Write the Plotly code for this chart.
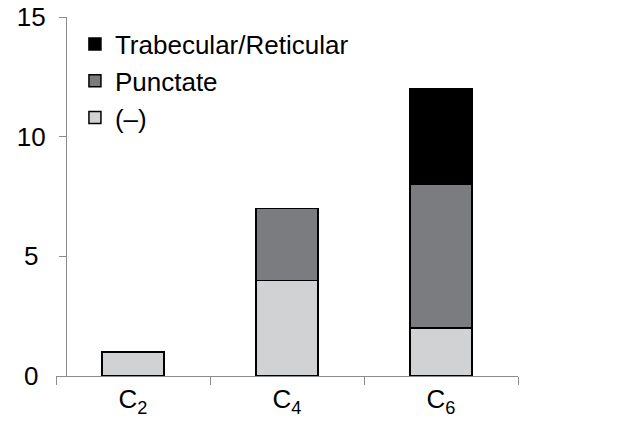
import plotly.graph_objects as go

categories = ["C<sub>2</sub>", "C<sub>4</sub>", "C<sub>6</sub>"]
neg_vals = [1, 4, 2]
punct_vals = [0, 3, 6]
trab_vals = [0, 0, 4]
y_ticks = [0, 5, 10, 15]
y_tick_labels = ["0\u2008", "5\u2008", "10", "15"]

fig = go.Figure()
series = [
    ("(–)", neg_vals, "#d1d2d4"),
    ("Punctate", punct_vals, "#7b7c80"),
    ("Trabecular/Reticular", trab_vals, "#000000"),
]
for i, (name, vals, col) in enumerate(series):
    fig.add_trace(go.Bar(
        x=categories, y=vals, name=name, legendgroup=f"g{i}",
        marker=dict(color=col, line=dict(color="black", width=1.5)),
    ))

fig.update_layout(
    width=622, height=424,
    barmode="stack", bargap=0.6,
    paper_bgcolor="white", plot_bgcolor="white",
    margin=dict(l=48, r=112, t=9, b=56, autoexpand=False),
    font=dict(family="Liberation Sans, Arial, sans-serif", size=26, color="black"),
    legend=dict(x=0.041, y=0.99, xanchor="left", yanchor="top",
                traceorder="reversed", tracegroupgap=3,
                font=dict(size=26), bgcolor="rgba(0,0,0,0)",
                itemwidth=30),
    showlegend=True,
)
fig.update_yaxes(range=[0, 15], tickvals=y_ticks, ticktext=y_tick_labels,
                 showgrid=False, zeroline=False,
                 anchor="free", position=0.0216,
                 showline=True, linecolor="#8c8c8c", linewidth=1,
                 ticks="outside", ticklen=7, tickcolor="#8c8c8c",
                 ticklabelstandoff=8, ticklabeloverflow="allow",
                 tickfont=dict(size=26), automargin=False)
fig.update_xaxes(domain=[0, 1], showgrid=False, showline=True, linecolor="#8c8c8c", linewidth=1,
                 ticks="outside", tickson="boundaries", ticklen=8, tickcolor="#8c8c8c",
                 tickfont=dict(size=26), range=[-0.5, 2.5], automargin=False)

fig.write_html("out.html")
